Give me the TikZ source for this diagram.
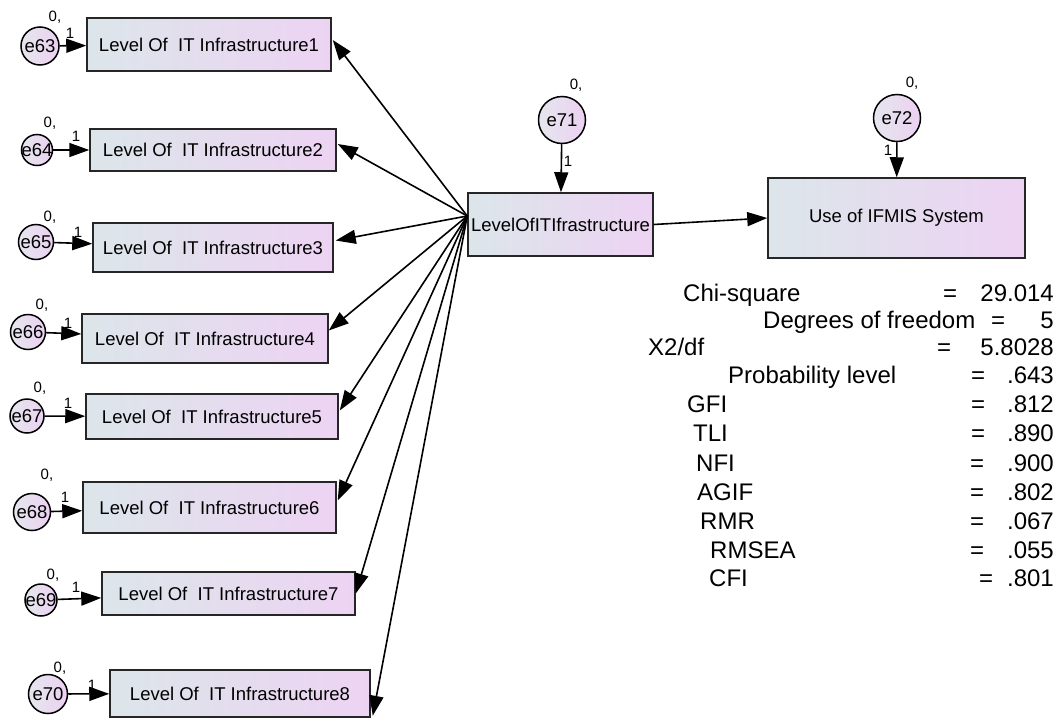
\documentclass[tikz,border=0pt]{standalone}
\usepackage{fontspec}
\setmainfont{Liberation Sans}
\usetikzlibrary{arrows.meta,calc}

\definecolor{boxL}{HTML}{DCE6EA}
\definecolor{boxR}{HTML}{EDD3F3}
\definecolor{circL}{HTML}{E6E6EE}
\definecolor{circR}{HTML}{EBD1F1}

\begin{document}

% one row of the fit summary: name, baseline, label x, label, "=" x, value
\newcommand{\statrow}[6]{%
  \path (#3,#2) node[stat, anchor=base west] (#1l) {#4};
  \path (#5,#2) node[stat, anchor=base] (#1e) {=};
  \path (1054,#2) node[stat, anchor=base east] (#1v) {#6};
}

% error term: name, x, y, radius, "0," x, y, "1" x, y, target node
\newcommand{\errterm}[9]{%
  \path (#2,#3) node[errc, minimum size=2*#4] (#1) {\makebox[0pt]{#1}};
  \path (#5,#6) node[small] (#1z) {0,};
  \path (#7,#8) node[small] (#1o) {1};
  \draw[arr] (#1) -- (#9);
}

\begin{tikzpicture}[x=1pt,y=-1pt,
  every node/.style={font=\fontsize{18.5}{22}\selectfont},
  ind/.style={draw=black!85, line width=1.5pt, left color=boxL, right color=boxR,
    inner sep=0pt, anchor=center},
  errc/.style={circle, draw=black, line width=1.5pt, left color=circL, right color=circR,
    inner sep=0pt},
  small/.style={font=\fontsize{15}{17}\selectfont, inner sep=0pt},
  stat/.style={font=\fontsize{24}{28}\selectfont, inner sep=0pt},
  arr/.style={line width=1.6pt, -{Triangle[length=20pt, width=14pt]}},
]
\useasboundingbox[fill=white] (0,0) rectangle (1059,720);

% observed indicators
\node[ind, minimum width=244, minimum height=53] (box1) at (209,44.5) {Level Of\ \ IT Infrastructure1};
\node[ind, minimum width=246, minimum height=42] (box2) at (213,150) {Level Of\ \ IT Infrastructure2};
\node[ind, minimum width=240, minimum height=49] (box3) at (213,247.5) {Level Of\ \ IT Infrastructure3};
\node[ind, minimum width=246, minimum height=49] (box4) at (205,338.5) {Level Of\ \ IT Infrastructure4};
\node[ind, minimum width=252, minimum height=45] (box5) at (212,416.5) {Level Of\ \ IT Infrastructure5};
\node[ind, minimum width=253, minimum height=51] (box6) at (209.5,507.5) {Level Of\ \ IT Infrastructure6};
\node[ind, minimum width=253, minimum height=43] (box7) at (228.5,593.5) {Level Of\ \ IT Infrastructure7};
\node[ind, minimum width=260, minimum height=47] (box8) at (240,693.5) {Level Of\ \ IT Infrastructure8};

% composite and outcome
\node[ind, minimum width=185, minimum height=63] (lit) at (560.5,224.5) {LevelOfITIfrastructure};
\node[ind, minimum width=257, minimum height=80] (use) at (896.5,218) {Use of IFMIS System};

% error terms
\errterm{e63}{40}{46}{19}{55}{17}{70}{33}{box1}
\errterm{e64}{37}{150}{15.5}{50}{123}{76}{136}{box2}
\errterm{e65}{36}{242}{17.5}{50}{217}{78}{232}{box3}
\errterm{e66}{28}{332}{17.5}{42}{305}{68}{323}{box4}
\errterm{e67}{27}{416}{17}{40}{388}{68}{403}{box5}
\errterm{e68}{32}{512}{18.5}{47}{475}{65}{497}{box6}
\errterm{e69}{41}{600}{16}{53}{575}{76}{587}{box7}
\errterm{e70}{48}{694}{19.5}{60}{668}{92}{685}{box8}
\errterm{e71}{562}{120}{23.5}{576}{85}{568}{161}{lit}
\errterm{e72}{897}{118}{23.5}{912}{83}{888}{150}{use}

% loadings
\coordinate (hub) at ($(lit.west)+(0,-8.5)$);
\draw[arr] (hub) -- ($(box1.east)+(1,-4.5)$);
\draw[arr] (hub) -- ($(box2.east)+(1,-6)$);
\draw[arr] (hub) -- ($(box3.east)+(2,-7)$);
\draw[arr] (hub) -- ($(box4.east)+(0,-8)$);
\draw[arr] (hub) -- ($(box5.east)+(1,-6)$);
\draw[arr] (hub) -- ($(box6.east)+(1,-7)$);
\draw[arr] (hub) -- (box7.east);
\draw[arr] (hub) -- ($(box8.south east)+(2,-2)$);
\draw[arr] (lit.east) -- (use.west);

% fit summary
\statrow{s1}{301.5}{683}{Chi-square}{950}{29.014}
\statrow{s2}{328.5}{763}{Degrees of freedom}{998}{5}
\statrow{s3}{355.5}{648}{X2/df}{944}{5.8028}
\statrow{s4}{383.5}{728}{Probability level}{978}{.643}
\statrow{s5}{412.5}{687}{GFI}{978}{.812}
\statrow{s6}{441.5}{693}{TLI}{978}{.890}
\statrow{s7}{471.5}{696}{NFI}{977}{.900}
\statrow{s8}{500.5}{697}{AGIF}{977}{.802}
\statrow{s9}{529.5}{700}{RMR}{977}{.067}
\statrow{s10}{558.5}{710}{RMSEA}{977}{.055}
\statrow{s11}{586.5}{709}{CFI}{986}{.801}
\end{tikzpicture}
\end{document}
